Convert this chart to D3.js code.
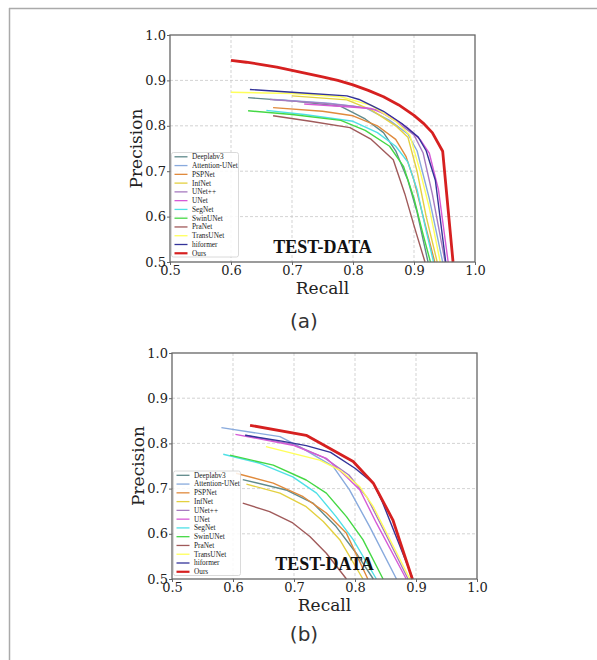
<!DOCTYPE html>
<html><head><meta charset="utf-8">
<script src="https://cdn.jsdelivr.net/npm/d3@7"></script>
<style>body{margin:0;background:#fff}svg{display:block}</style>
</head><body>
<svg id="c" width="597" height="660"></svg>
<script>
// ---------- data ----------
const models = ["Deeplabv3","Attention-UNet","PSPNet","InfNet","UNet++","UNet","SegNet","SwinUNet","PraNet","TransUNet","hiformer","Ours"];
const recallTicks = [0.5,0.6,0.7,0.8,0.9,1.0];
const precisionTicks = [0.5,0.6,0.7,0.8,0.9,1.0];
const tickLabels = ["0.5","0.6","0.7","0.8","0.9","1.0"];

// panel (a): [recall, precision]
const a_Deeplabv3 = [[0.628,0.862],[0.70,0.855],[0.78,0.843],[0.82,0.815],[0.85,0.785],[0.87,0.745],[0.89,0.68],[0.905,0.61],[0.923,0.5]];
const a_AttentionUNet = [[0.67,0.858],[0.76,0.850],[0.82,0.840],[0.86,0.812],[0.89,0.782],[0.905,0.745],[0.925,0.64],[0.947,0.5]];
const a_PSPNet = [[0.669,0.840],[0.75,0.832],[0.80,0.822],[0.84,0.800],[0.87,0.770],[0.887,0.732],[0.90,0.68],[0.915,0.60],[0.934,0.5]];
const a_InfNet = [[0.70,0.866],[0.79,0.857],[0.83,0.835],[0.87,0.800],[0.89,0.775],[0.905,0.70],[0.92,0.60],[0.938,0.5]];
const a_UNetpp = [[0.664,0.858],[0.75,0.850],[0.80,0.843],[0.84,0.835],[0.87,0.810],[0.90,0.780],[0.915,0.740],[0.93,0.65],[0.951,0.5]];
const a_UNet = [[0.72,0.848],[0.79,0.842],[0.83,0.838],[0.86,0.822],[0.89,0.795],[0.91,0.770],[0.925,0.740],[0.94,0.66],[0.956,0.5]];
const a_SegNet = [[0.658,0.834],[0.72,0.825],[0.80,0.810],[0.84,0.785],[0.87,0.755],[0.89,0.720],[0.905,0.66],[0.918,0.58],[0.932,0.5]];
const a_SwinUNet = [[0.628,0.833],[0.70,0.825],[0.78,0.812],[0.82,0.790],[0.86,0.755],[0.883,0.710],[0.90,0.64],[0.915,0.56],[0.927,0.5]];
const a_PraNet = [[0.669,0.822],[0.73,0.810],[0.795,0.796],[0.83,0.770],[0.866,0.725],[0.885,0.65],[0.90,0.58],[0.918,0.5]];
const a_TransUNet = [[0.60,0.874],[0.70,0.871],[0.78,0.864],[0.83,0.845],[0.87,0.810],[0.893,0.780],[0.91,0.70],[0.925,0.62],[0.943,0.5]];
const a_hiformer = [[0.631,0.880],[0.70,0.874],[0.79,0.866],[0.81,0.858],[0.85,0.832],[0.88,0.805],[0.907,0.775],[0.92,0.745],[0.935,0.68],[0.952,0.5]];
const a_Ours = [[0.60,0.944],[0.625,0.940],[0.65,0.935],[0.675,0.929],[0.70,0.922],[0.725,0.915],[0.75,0.908],[0.775,0.900],[0.80,0.890],[0.825,0.878],[0.85,0.864],[0.875,0.846],[0.90,0.823],[0.915,0.806],[0.93,0.785],[0.947,0.744],[0.964,0.5]];

// panel (b)
const b_Deeplabv3 = [[0.616,0.720],[0.687,0.697],[0.731,0.668],[0.769,0.616],[0.802,0.557],[0.83,0.5]];
const b_AttentionUNet = [[0.581,0.835],[0.677,0.815],[0.709,0.793],[0.764,0.749],[0.791,0.697],[0.824,0.616],[0.868,0.5]];
const b_PSPNet = [[0.605,0.734],[0.666,0.712],[0.715,0.682],[0.753,0.646],[0.786,0.601],[0.821,0.5]];
const b_InfNet = [[0.622,0.710],[0.677,0.690],[0.72,0.660],[0.748,0.627],[0.775,0.587],[0.813,0.5]];
const b_UNetpp = [[0.62,0.818],[0.70,0.797],[0.75,0.768],[0.79,0.730],[0.82,0.680],[0.85,0.600],[0.887,0.5]];
const b_UNet = [[0.604,0.820],[0.698,0.796],[0.753,0.767],[0.786,0.726],[0.808,0.697],[0.835,0.624],[0.884,0.5]];
const b_SegNet = [[0.584,0.776],[0.644,0.756],[0.698,0.726],[0.737,0.690],[0.769,0.638],[0.797,0.587],[0.835,0.5]];
const b_SwinUNet = [[0.595,0.774],[0.666,0.752],[0.72,0.719],[0.753,0.690],[0.786,0.638],[0.813,0.587],[0.846,0.5]];
const b_PraNet = [[0.616,0.668],[0.66,0.649],[0.698,0.624],[0.726,0.594],[0.753,0.557],[0.786,0.5]];
const b_TransUNet = [[0.654,0.793],[0.742,0.763],[0.775,0.741],[0.808,0.704],[0.83,0.660],[0.89,0.5]];
const b_hiformer = [[0.62,0.818],[0.68,0.805],[0.72,0.795],[0.76,0.780],[0.80,0.745],[0.83,0.712],[0.845,0.670],[0.87,0.585],[0.895,0.5]];
const b_Ours = [[0.628,0.840],[0.72,0.818],[0.753,0.793],[0.797,0.760],[0.83,0.712],[0.862,0.631],[0.894,0.5]];

const seriesA = [a_Deeplabv3,a_AttentionUNet,a_PSPNet,a_InfNet,a_UNetpp,a_UNet,a_SegNet,a_SwinUNet,a_PraNet,a_TransUNet,a_hiformer,a_Ours];
const seriesB = [b_Deeplabv3,b_AttentionUNet,b_PSPNet,b_InfNet,b_UNetpp,b_UNet,b_SegNet,b_SwinUNet,b_PraNet,b_TransUNet,b_hiformer,b_Ours];

// ---------- style ----------
const colors = ["#5f8a8b","#88aadd","#e08a3c","#e3d040","#a77bc0","#d65ad6","#4fe0e6","#44d844","#a05a5a","#ffff5a","#333399","#d62020"];

const svg = d3.select("#c");
// outer frame (top + left)
svg.append("line").attr("x1",9).attr("x2",597).attr("y1",8.5).attr("y2",8.5).attr("stroke","#aaa").attr("stroke-width",1.5);
svg.append("line").attr("x1",9.5).attr("x2",9.5).attr("y1",8).attr("y2",660).attr("stroke","#aaa").attr("stroke-width",1.5);

function panel(cfg){
  const x = d3.scaleLinear().domain([0.5,1.0]).range([cfg.l,cfg.r]);
  const y = d3.scaleLinear().domain([0.5,1.0]).range([cfg.b,cfg.t]);
  const g = svg.append("g");
  // grid
  g.selectAll(".gx").data(recallTicks.slice(1,-1)).join("line")
    .attr("x1",d=>x(d)).attr("x2",d=>x(d)).attr("y1",cfg.t).attr("y2",cfg.b)
    .attr("stroke","#c8c8c8").attr("stroke-width",0.8).attr("stroke-dasharray","3,2");
  g.selectAll(".gy").data(precisionTicks.slice(1,-1)).join("line")
    .attr("y1",d=>y(d)).attr("y2",d=>y(d)).attr("x1",cfg.l).attr("x2",cfg.r)
    .attr("stroke","#c8c8c8").attr("stroke-width",0.8).attr("stroke-dasharray","3,2");
  // axes
  const ax = g.append("g").attr("transform",`translate(0,${cfg.b})`)
    .call(d3.axisBottom(x).tickValues(recallTicks).tickFormat((d,i)=>tickLabels[i]).tickSize(3).tickPadding(1));
  const ay = g.append("g").attr("transform",`translate(${cfg.l},0)`)
    .call(d3.axisLeft(y).tickValues(precisionTicks).tickFormat((d,i)=>tickLabels[i]).tickSize(3).tickPadding(1));
  [ax,ay].forEach(a=>{
    a.select(".domain").remove();
    a.selectAll("line").attr("stroke","#666");
    a.selectAll("text").attr("font-family","DejaVu Serif").attr("font-size",13).attr("fill","#222");
  });
  // curves
  const line = d3.line().x(d=>x(d[0])).y(d=>y(d[1]));
  cfg.series.forEach((s,i)=>{
    g.append("path").datum(s).attr("d",line).attr("fill","none")
      .attr("stroke",colors[i]).attr("stroke-width",i===11?2.8:1.4).attr("stroke-linejoin","round");
  });
  // frame
  g.append("rect").attr("x",cfg.l).attr("y",cfg.t).attr("width",cfg.r-cfg.l).attr("height",cfg.b-cfg.t)
    .attr("fill","none").attr("stroke","#666").attr("stroke-width",1.3);
  // legend
  const lg = g.append("g");
  lg.append("rect").attr("x",x(0.5)+1.5).attr("y",cfg.legTop).attr("width",67).attr("height",104.5)
    .attr("rx",2).attr("fill","#fff").attr("fill-opacity",0.85).attr("stroke","#d0d0d0").attr("stroke-width",0.8);
  models.forEach((m,i)=>{
    const yy = cfg.legTop + 4.3 + i*8.77;
    lg.append("line").attr("x1",x(0.5)+4.5).attr("x2",x(0.5)+17.5).attr("y1",yy).attr("y2",yy)
      .attr("stroke",colors[i]).attr("stroke-width",i===11?2.2:1.3);
    lg.append("text").attr("x",x(0.5)+22).attr("y",yy+2.4).text(m)
      .attr("font-family","Liberation Serif").attr("font-size",7.3).attr("fill","#222");
  });
  // labels
  g.append("text").attr("x",(cfg.l+cfg.r)/2).attr("y",cfg.b-9).attr("text-anchor","middle")
    .attr("font-family","Liberation Serif").attr("font-weight","bold").attr("font-size",18).attr("fill","#111").text("TEST-DATA");
  g.append("text").attr("x",(cfg.l+cfg.r)/2).attr("y",cfg.b+32).attr("text-anchor","middle")
    .attr("font-family","DejaVu Serif").attr("font-size",17).attr("fill","#222").text("Recall");
  g.append("text").attr("transform",`translate(${cfg.l-28},${(cfg.t+cfg.b)/2}) rotate(-90)`).attr("text-anchor","middle")
    .attr("font-family","DejaVu Serif").attr("font-size",17).attr("fill","#222").text("Precision");
  g.append("text").attr("x",304).attr("y",cfg.capY).attr("text-anchor","middle")
    .attr("font-family","DejaVu Sans").attr("font-size",20).attr("fill","#333").text(cfg.cap);
}

panel({l:170,r:475,t:35,b:262,series:seriesA,legTop:152.5,cap:"(a)",capY:328});
panel({l:172,r:477,t:353,b:579,series:seriesB,legTop:471,cap:"(b)",capY:641});
</script>
</body></html>
